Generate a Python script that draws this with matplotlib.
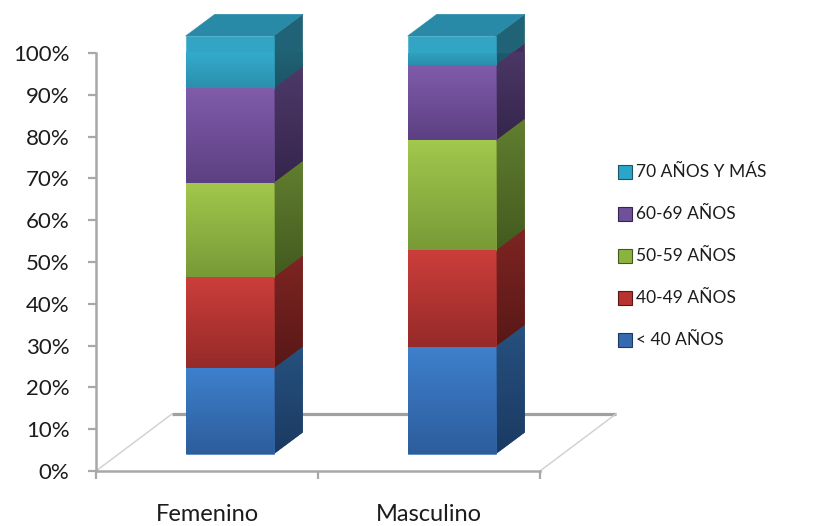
import numpy as np
import matplotlib
matplotlib.use("Agg")
import matplotlib.pyplot as plt
from matplotlib.patches import Polygon, Rectangle
from matplotlib.colors import to_rgb

# ---- data -------------------------------------------------------------
categories = ["Femenino", "Masculino"]
series_labels = ["< 40 AÑOS", "40-49 AÑOS", "50-59 AÑOS", "60-69 AÑOS", "70 AÑOS Y MÁS"]
femenino = [20.5, 21.8, 22.6, 22.6, 12.5]
masculino = [25.7, 23.0, 26.3, 18.1, 6.9]
y_ticks = [0, 10, 20, 30, 40, 50, 60, 70, 80, 90, 100]
y_tick_labels = ["0%", "10%", "20%", "30%", "40%", "50%", "60%", "70%", "80%", "90%", "100%"]

# ---- styling ----------------------------------------------------------
# (front top, front bottom, side top, side bottom, legend swatch)
palette = [
    ("#3E80CD", "#2D5D9C", "#26517F", "#1B3A62", "#3569B0"),
    ("#CC3E3B", "#952A28", "#7E2522", "#571817", "#B8332F"),
    ("#A2C84C", "#789A37", "#627F2F", "#435A1F", "#8DB33F"),
    ("#805CAB", "#5C4082", "#4E3969", "#35254B", "#6F509A"),
    ("#39B9DC", "#2A8FAC", "#257085", "#1B5566", "#2BA6C8"),
]
top_face = ("#2C93AE", "#2580A0")

plt.rcParams["font.family"] = ["Lato", "DejaVu Sans"]
text_color = "#1c1c1c"
axis_color = "#A8A8A8"

W, H = 821, 526
fig = plt.figure(figsize=(W / 100, H / 100), dpi=100)
ax = fig.add_axes([96 / W, (H - 471) / H, 444 / W, 418 / H])

# oblique depth offsets (x in category units, y in percent)
bar_w = 0.396
front_dx, front_dy = 0.102, 4.07
depth_dx, depth_dy = 0.131, 5.19
floor_dx, floor_dy = 0.342, 13.64
x_pos = np.arange(len(categories)) + 0.5


def shaded(verts, c_top, c_bot, z):
    verts = np.asarray(verts, dtype=float)
    mid = tuple((np.array(to_rgb(c_top)) + np.array(to_rgb(c_bot))) / 2)
    base = Polygon(verts, closed=True, facecolor=mid, edgecolor=mid,
                   linewidth=0.4, zorder=z - 0.01, clip_on=False)
    ax.add_patch(base)
    clip = Polygon(verts, closed=True, facecolor="none", edgecolor="none",
                   transform=ax.transData)
    t = np.linspace(0, 1, 128)[:, None]
    grad = (1 - t) * np.array(to_rgb(c_bot)) + t * np.array(to_rgb(c_top))
    im = ax.imshow(grad[:, None, :], origin="lower", aspect="auto",
                   interpolation="bilinear", zorder=z,
                   extent=(verts[:, 0].min(), verts[:, 0].max(),
                           verts[:, 1].min(), verts[:, 1].max()))
    im.set_clip_path(clip)
    im.set_clip_box(None)


# floor outline behind the bars
ax.plot([floor_dx, 2 + floor_dx], [floor_dy, floor_dy], color="#A0A0A0",
        lw=2.3, clip_on=False, zorder=1, solid_capstyle="butt")
ax.plot([0, floor_dx], [0, floor_dy], color="#CFCFCF", lw=1.0,
        clip_on=False, zorder=1)
ax.plot([2, 2 + floor_dx], [0, floor_dy], color="#CFCFCF", lw=1.0,
        clip_on=False, zorder=1)

# stacked bars
for xc, values in zip(x_pos, [femenino, masculino]):
    xl = xc - bar_w / 2 + front_dx
    xr = xc + bar_w / 2 + front_dx
    bottom = 0.0
    for k, v in enumerate(values):
        ft, fb, st, sb, _ = palette[k]
        y0 = bottom + front_dy
        y1 = bottom + v + front_dy
        shaded([(xl, y0), (xr, y0), (xr, y1), (xl, y1)], ft, fb, 3)
        shaded([(xr, y0), (xr + depth_dx, y0 + depth_dy),
                (xr + depth_dx, y1 + depth_dy), (xr, y1)], st, sb, 2)
        bottom += v
    ytop = bottom + front_dy
    shaded([(xl, ytop), (xr, ytop), (xr + depth_dx, ytop + depth_dy),
            (xl + depth_dx, ytop + depth_dy)], top_face[0], top_face[1], 2.5)

ax.set_xlim(0, 2)
ax.set_ylim(0, 100)
ax.set_facecolor("none")

for side in ("top", "right"):
    ax.spines[side].set_visible(False)
for side in ("left", "bottom"):
    ax.spines[side].set_color(axis_color)
    ax.spines[side].set_linewidth(1.8)
    ax.spines[side].set_zorder(5)

ax.set_yticks(y_ticks)
ax.set_yticklabels(y_tick_labels)
ax.tick_params(axis="y", length=6, width=1.6, color=axis_color,
               labelsize=16, labelcolor=text_color, pad=13)

ax.set_xticks([0, 1, 2])
ax.set_xticklabels([])
ax.set_xticks(x_pos, minor=True)
ax.set_xticklabels(categories, minor=True)
ax.tick_params(axis="x", which="major", length=6, width=1.6, color=axis_color)
ax.tick_params(axis="x", which="minor", length=0, labelsize=17,
               labelcolor=text_color, pad=24)

# legend, top entry is the last series
sw = 14
for i, k in enumerate(reversed(range(len(series_labels)))):
    yc = 172 + 42 * i
    fig.add_artist(Rectangle((618 / W, 1 - (yc + sw / 2) / H), sw / W, sw / H,
                             transform=fig.transFigure, facecolor=palette[k][4],
                             edgecolor=palette[k][3], linewidth=0.8))
    fig.text(636 / W, 1 - yc / H, series_labels[k], fontsize=12.5,
             color=text_color, va="center", ha="left")

fig.savefig("out.png", dpi=100)
